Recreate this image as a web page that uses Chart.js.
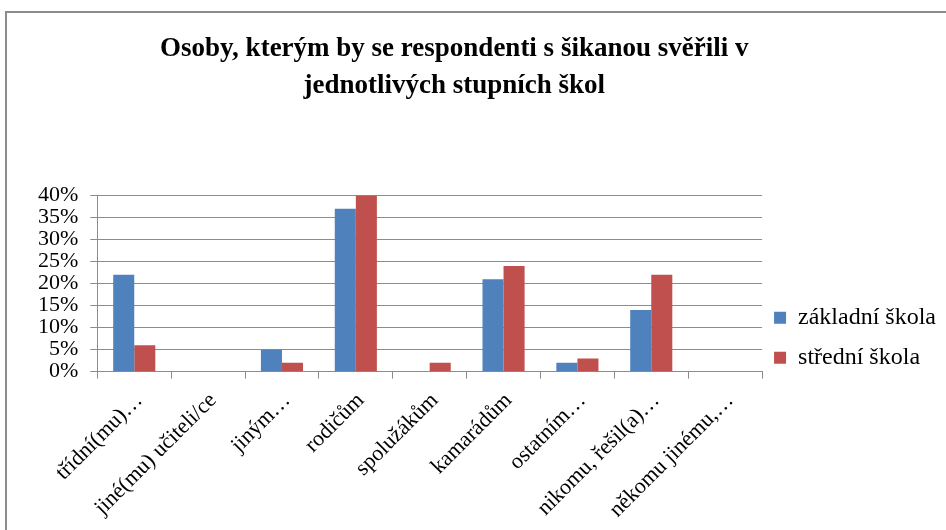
<!DOCTYPE html>
<html>
<head>
<meta charset="utf-8">
<script src="https://cdn.jsdelivr.net/npm/chart.js@4"></script>
<style>
  body { margin: 0; background: #fff; }
  #wrap { position: relative; width: 946px; height: 530px; overflow: hidden; }
  #frame { position: absolute; left: 5px; top: 11px; width: 1000px; height: 600px; border: 2px solid #8c8c8c; }
  canvas { position: absolute; left: 0; top: 0; }
</style>
</head>
<body>
<div id="wrap">
  <div id="frame"></div>
  <canvas id="barChart" width="946" height="530"></canvas>
</div>
<script>
const labels = ['třídní(mu)…', 'jiné(mu) učiteli/ce', 'jiným…', 'rodičům', 'spolužákům',
                'kamarádům', 'ostatním…', 'nikomu, řešil(a)…', 'někomu jinému,…'];
const zakladni = [22, 0, 5, 37, 0, 21, 2, 14, 0];
const stredni = [6, 0, 2, 40, 2, 24, 3, 22, 0];
const yMax = 40;
const yStep = 5;

const serif = "'Liberation Serif', 'DejaVu Serif', serif";
// trailing spaces nudge the centred title a bit to the left, like the original
const pad = '\u00a0'.repeat(10);

// push the legend down a little so it sits near the bottom of the plot
const legendShift = {
    id: 'legendShift',
    afterLayout(chart) {
        if (chart.legend) {
            chart.legend.top += 14;
            chart.legend.bottom += 14;
            chart.legend.left -= 4;
            chart.legend.right -= 4;
        }
    }
};

const ctx = document.getElementById('barChart').getContext('2d');
new Chart(ctx, {
    type: 'bar',
    data: {
        labels: labels,
        datasets: [
            {
                label: 'základní škola',
                data: zakladni,
                backgroundColor: '#4F81BD',
                categoryPercentage: 0.57,
                barPercentage: 1
            },
            {
                label: 'střední škola',
                data: stredni,
                backgroundColor: '#C0504D',
                categoryPercentage: 0.57,
                barPercentage: 1
            }
        ]
    },
    options: {
        responsive: false,
        animation: false,
        layout: {
            padding: { left: 26, right: -4, top: 0, bottom: -2 }
        },
        scales: {
            x: {
                grid: {
                    display: true,
                    drawOnChartArea: false,
                    color: '#8c8c8c',
                    tickLength: 7,
                    offset: true
                },
                border: { color: '#8c8c8c', width: 1 },
                ticks: {
                    color: '#000',
                    minRotation: 45,
                    maxRotation: 45,
                    autoSkip: false,
                    padding: 9,
                    labelOffset: 5,
                    font: { family: serif, size: 22 }
                }
            },
            y: {
                min: 0,
                max: yMax,
                grid: {
                    color: '#8c8c8c',
                    tickLength: 7
                },
                border: { color: '#8c8c8c', width: 1 },
                ticks: {
                    stepSize: yStep,
                    autoSkip: false,
                    color: '#000',
                    padding: 12,
                    font: { family: serif, size: 22, lineHeight: 1 },
                    callback: v => v + '%'
                }
            }
        },
        plugins: {
            title: {
                display: true,
                text: ['Osoby, kterým by se respondenti s šikanou svěřili v' + pad, 'jednotlivých stupních škol' + pad],
                color: '#000',
                font: { family: serif, size: 27, weight: 'bold', lineHeight: 1.38 },
                padding: { top: 30, bottom: 91 }
            },
            legend: {
                position: 'right',
                align: 'end',
                fullSize: false,
                labels: {
                    color: '#000',
                    boxWidth: 12,
                    boxHeight: 12,
                    padding: 16,
                    font: { family: serif, size: 24 }
                }
            },
            tooltip: { enabled: false }
        }
    },
    plugins: [legendShift]
});
</script>
</body>
</html>
